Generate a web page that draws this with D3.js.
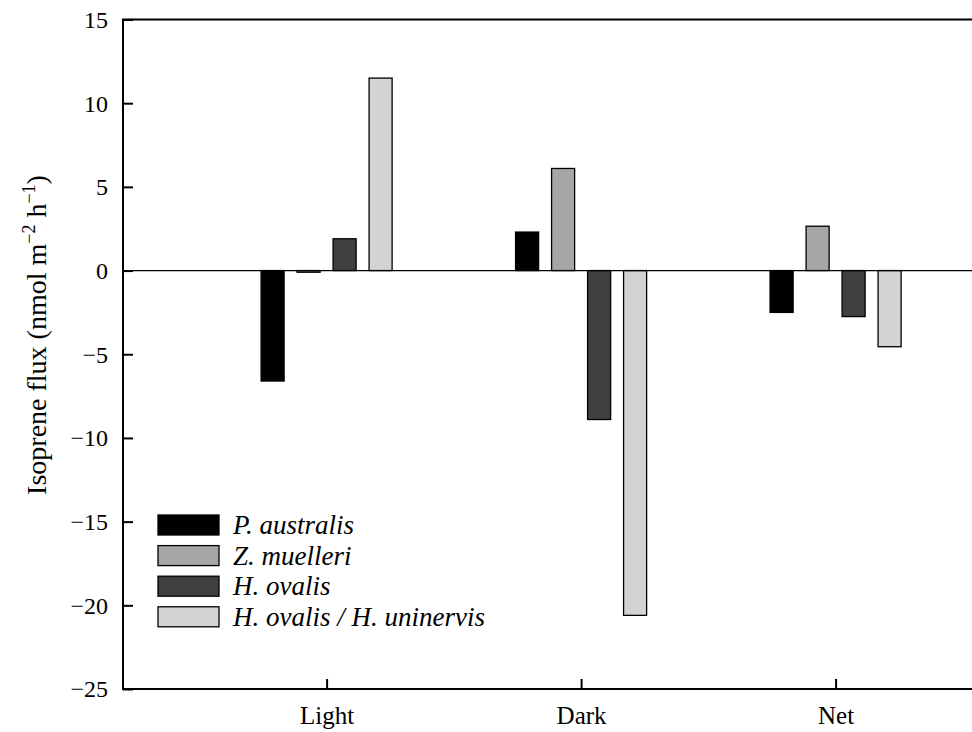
<!DOCTYPE html>
<html>
<head>
<meta charset="utf-8">
<script src="https://cdn.jsdelivr.net/npm/d3@7"></script>
<style>
  html, body { margin: 0; padding: 0; background: #fff; }
  svg { display: block; }
  text { font-family: "Liberation Serif", "Times New Roman", serif; fill: #000; }
</style>
</head>
<body>
<svg id="chart" width="972" height="732"></svg>
<script>
// Isoprene flux per condition and seagrass species
const conditions = ["Light", "Dark", "Net"];
const species = ["P. australis", "Z. muelleri", "H. ovalis", "H. ovalis / H. uninervis"];
const pAustralis = [-6.6, 2.3, -2.5];
const zMuelleri = [-0.1, 6.1, 2.65];
const hOvalis = [1.9, -8.9, -2.75];
const hOvalisUninervis = [11.5, -20.6, -4.55];
const yTicks = [15, 10, 5, 0, -5, -10, -15, -20, -25];
const fills = ["#000000", "#a6a6a6", "#404040", "#d3d3d3"];

const seriesValues = [pAustralis, zMuelleri, hOvalis, hOvalisUninervis];

const svg = d3.select("#chart");
const plotLeft = 123, plotTop = 19.5, plotBottom = 689;
const unit = 254.5;

// Categories sit at positions 1..3 on a 0.2–3.8 axis that runs past the right edge
const x = d3.scaleLinear().domain([0.2, 3.8]).range([plotLeft, plotLeft + 3.6 * unit]);
const y = d3.scaleLinear().domain([-25, 15]).range([plotBottom, plotTop]);
const inner = d3.scaleBand().domain(species).range([-72, 72]).paddingInner(0.36).paddingOuter(0.18);

// Bars
const bars = [];
conditions.forEach((c, ci) => {
  species.forEach((s, si) => {
    bars.push({ c, ci, s, si, v: seriesValues[si][ci] });
  });
});

svg.append("g").selectAll("rect").data(bars).join("rect")
  .attr("x", d => x(d.ci + 1) + inner(d.s))
  .attr("width", inner.bandwidth())
  .attr("y", d => y(Math.max(0, d.v)))
  .attr("height", d => Math.abs(y(d.v) - y(0)))
  .attr("fill", d => fills[d.si])
  .attr("stroke", "#000")
  .attr("stroke-width", 1.3);

// Zero line
svg.append("line")
  .attr("x1", plotLeft).attr("x2", 972)
  .attr("y1", y(0)).attr("y2", y(0))
  .attr("stroke", "#000").attr("stroke-width", 1.3);

// Frame: top, left and bottom edges
svg.append("path")
  .attr("d", `M972,${plotTop}H${plotLeft}V${plotBottom}H972`)
  .attr("stroke", "#000").attr("stroke-width", 2).attr("fill", "none");

// Y axis with inward ticks
const yAxis = d3.axisLeft(y).tickValues(yTicks).tickSizeInner(-10).tickSizeOuter(0)
  .tickFormat(d => d < 0 ? "\u2212" + Math.abs(d) : String(d));
const gy = svg.append("g").attr("transform", `translate(${plotLeft},0)`).call(yAxis);
gy.select(".domain").remove();
gy.selectAll(".tick line").attr("stroke", "#000").attr("stroke-width", 2);
gy.selectAll(".tick text")
  .attr("x", -15)
  .attr("dy", "0.33em")
  .attr("font-size", 24)
  .attr("font-family", "Liberation Serif, serif");

// X axis with inward ticks
const xAxis = d3.axisBottom(x).tickValues([1, 2, 3]).tickSizeInner(-10).tickSizeOuter(0)
  .tickFormat(d => conditions[d - 1]);
const gx = svg.append("g").attr("transform", `translate(0,${plotBottom})`).call(xAxis);
gx.select(".domain").remove();
gx.selectAll(".tick line").attr("stroke", "#000").attr("stroke-width", 2);
gx.selectAll(".tick text")
  .attr("y", 35)
  .attr("dy", 0)
  .attr("font-size", 25)
  .attr("font-family", "Liberation Serif, serif");

// Y axis title
const title = svg.append("text")
  .attr("transform", `translate(46,335) rotate(-90)`)
  .attr("text-anchor", "middle")
  .attr("font-size", 28);
title.append("tspan").text("Isoprene flux (nmol m");
title.append("tspan").attr("dy", -11).attr("font-size", 18).text("\u22122");
title.append("tspan").attr("dy", 11).text(" h");
title.append("tspan").attr("dy", -11).attr("font-size", 18).text("\u22121");
title.append("tspan").attr("dy", 11).text(")");

// Legend
const legend = svg.append("g").attr("transform", "translate(158,515)");
const rowStep = 30.6;
const lg = legend.selectAll("g").data(species).join("g")
  .attr("transform", (d, i) => `translate(0,${i * rowStep})`);
lg.append("rect")
  .attr("width", 61).attr("height", 20)
  .attr("fill", (d, i) => fills[i])
  .attr("stroke", "#000").attr("stroke-width", 1.3);
lg.append("text")
  .attr("x", 75).attr("y", 10).attr("dy", "0.33em")
  .attr("font-size", 27)
  .attr("font-style", "italic")
  .text(d => d);
</script>
</body>
</html>
